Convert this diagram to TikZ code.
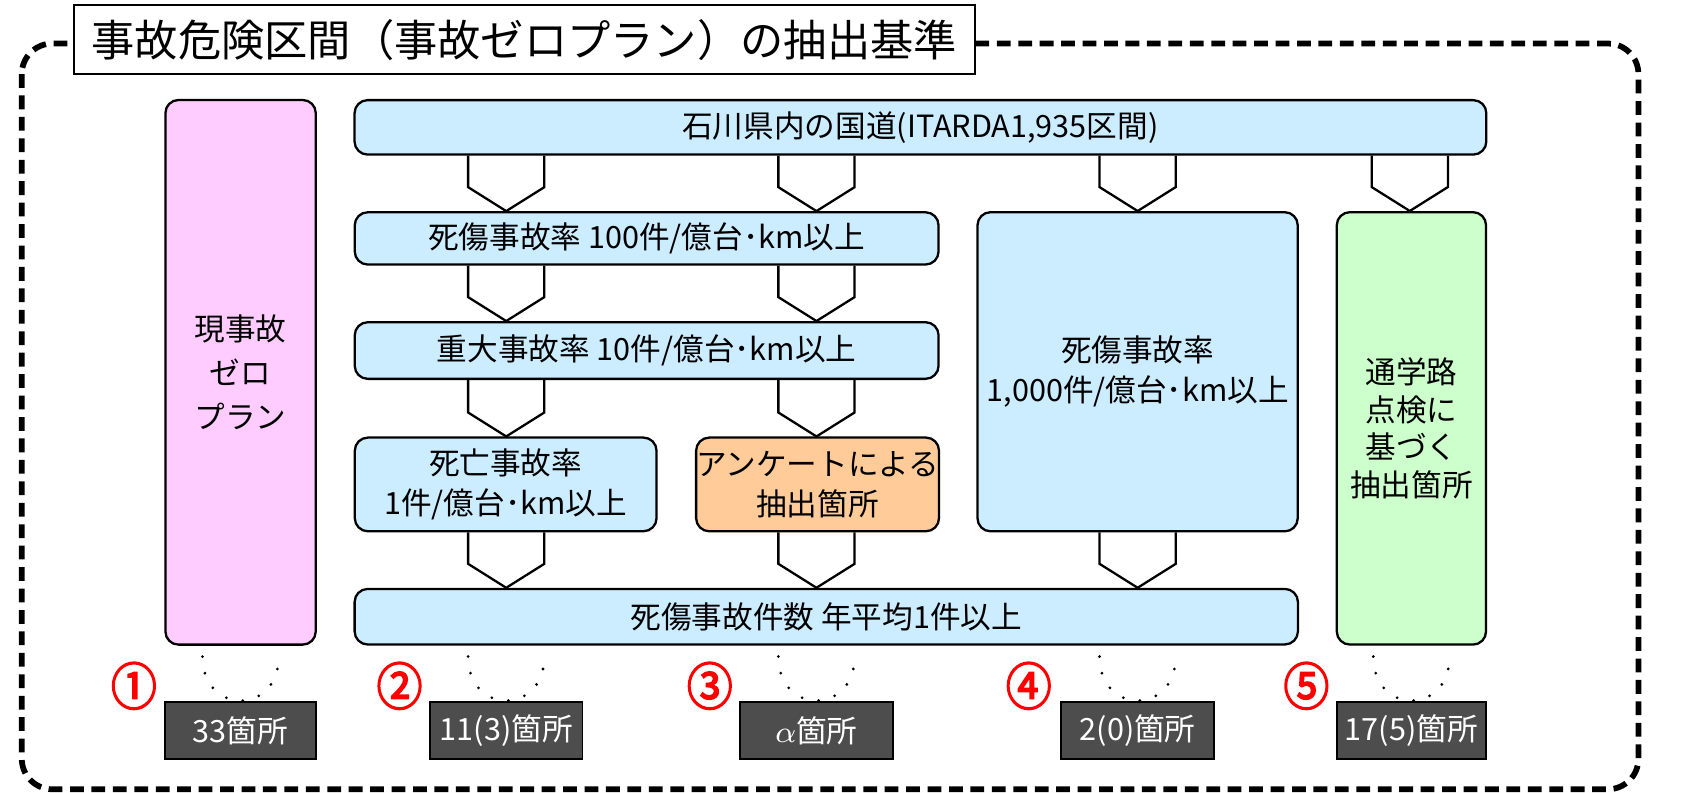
\documentclass[tikz,border=0pt]{standalone}
\usepackage{fontspec}
\setmainfont{Noto Sans CJK JP}
\newfontfamily\circfont[FakeBold=3,FakeStretch=0.9]{Noto Sans CJK JP}
\usetikzlibrary{calc}
\definecolor{bluefill}{HTML}{CCECFF}
\definecolor{pinkfill}{HTML}{FFCCFF}
\definecolor{orangefill}{HTML}{FFCC99}
\definecolor{greenfill}{HTML}{CCFFCC}
\definecolor{darkfill}{HTML}{4D4D4D}
\newcommand\chev[3]{\draw[chevline] (#1-35,0 |- #2.south) -- ($(#1-35,0 |- #3.north)+(0,-22)$) -- (#1,0 |- #3.north) -- ($(#1+35,0 |- #3.north)+(0,-22)$) -- (#1+35,0 |- #2.south);}
\newcommand\dotarc[1]{\draw[dotline] ($(#1.north)+(-35,-41)$) .. controls ($(#1.north)+(-35,13)$) and ($(#1.north)+(35,13)$) .. ($(#1.north)+(35,-41)$);}
\begin{document}
\begin{tikzpicture}[x=0.01cm,y=-0.01cm,
  bodyfont/.style={font=\fontsize{8}{10.5}\selectfont},
  box/.style={draw=black, line width=0.6pt, rounded corners=0.12cm, align=center, inner sep=0pt, bodyfont},
  bluebox/.style={box, fill=bluefill},
  result/.style={draw=black, line width=0.5pt, fill=darkfill, text=white, inner sep=0pt, minimum height=0.52cm, bodyfont},
  chevline/.style={draw=black, line width=0.6pt, line join=miter},
  dotline/.style={line width=0.8pt, line cap=round, dash pattern=on 0pt off 4.4pt},
  outerline/.style={draw=black, line width=1.5pt, dash pattern=on 3.6pt off 2pt, rounded corners=0.28cm},
  circnum/.style={text=red, inner sep=0pt, font=\circfont\fontsize{13.3}{15}\selectfont}
]
\useasboundingbox (0,0) rectangle (1568,728);
\draw[outerline] (20,40) rectangle (1505,725);
\node[draw=black, line width=0.5pt, fill=white, minimum width=8.27cm, minimum height=0.63cm, inner sep=0pt, font=\fontsize{11.3}{13}\selectfont] (title) at (481.5,36.5) {事故危険区間（事故ゼロプラン）の抽出基準};

\node[box, fill=pinkfill, minimum width=1.38cm, minimum height=5.00cm, font=\fontsize{8}{11.5}\selectfont] (pink) at (221,342) {現事故\\ゼロ\\プラン};
\node[bluebox, minimum width=10.39cm, minimum height=0.50cm] (top) at (845.5,117) {石川県内の国道(ITARDA1,935区間)};
\node[bluebox, minimum width=5.36cm, minimum height=0.48cm] (A) at (594,219) {死傷事故率 100件/億台･km以上};
\node[bluebox, minimum width=5.36cm, minimum height=0.52cm] (B) at (594,322) {重大事故率 10件/億台･km以上};
\node[bluebox, minimum width=2.77cm, minimum height=0.86cm] (C) at (464.5,445) {死亡事故率\\1件/億台･km以上};
\node[box, fill=orangefill, minimum width=2.22cm, minimum height=0.86cm] (D) at (751,445) {アンケートによる\\抽出箇所};
\node[bluebox, minimum width=2.94cm, minimum height=2.93cm] (E) at (1045,341.5) {死傷事故率\\1,000件/億台･km以上};
\node[box, fill=greenfill, minimum width=1.37cm, minimum height=3.97cm, font=\fontsize{8}{9.8}\selectfont] (F) at (1296.5,393.5) {通学路\\点検に\\基づく\\抽出箇所};
\node[bluebox, minimum width=8.66cm, minimum height=0.51cm] (G) at (759,566.5) {死傷事故件数 年平均1件以上};

\chev{465}{top}{A}
\chev{750}{top}{A}
\chev{1045}{top}{E}
\chev{1295}{top}{F}
\chev{465}{A}{B}
\chev{750}{A}{B}
\chev{465}{B}{C}
\chev{750}{B}{D}
\chev{465}{C}{G}
\chev{750}{D}{G}
\chev{1045}{E}{G}

\node[result, minimum width=1.38cm] (r1) at (221,671) {33箇所};
\node[result, minimum width=1.40cm] (r2) at (465,671) {11(3)箇所};
\node[result, minimum width=1.40cm] (r3) at (750,671) {$\alpha$箇所};
\node[result, minimum width=1.40cm] (r4) at (1045,671) {2(0)箇所};
\node[result, minimum width=1.37cm] (r5) at (1296.5,671) {17(5)箇所};

\dotarc{r1}
\dotarc{r2}
\dotarc{r3}
\dotarc{r4}
\dotarc{r5}

\node[circnum] (n1) at (123,630) {①};
\node[circnum] (n2) at (367,630) {②};
\node[circnum] (n3) at (652,630) {③};
\node[circnum] (n4) at (945,630) {④};
\node[circnum] (n5) at (1200,630) {⑤};
\end{tikzpicture}
\end{document}
